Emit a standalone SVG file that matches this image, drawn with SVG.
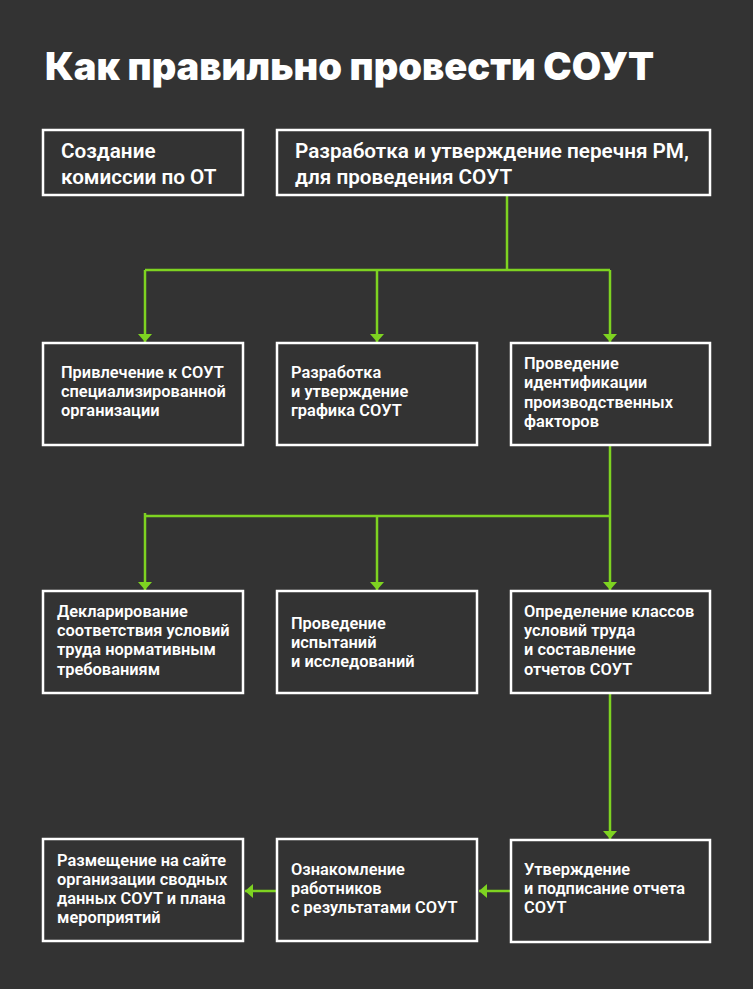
<svg xmlns="http://www.w3.org/2000/svg" width="753" height="989" viewBox="0 0 753 989">
<defs>
<style>
.box{fill:#333333;stroke:#ffffff;stroke-width:2.5}
.t{font-family:Roboto,"Liberation Sans",sans-serif;font-weight:600;fill:#ffffff}
.big{font-size:20.7px}
.sm{font-size:16.4px}
.title{font-family:Inter,"Liberation Sans",sans-serif;font-weight:900;font-size:38px;fill:#ffffff}
.ln{fill:none;stroke:#7ED321;stroke-width:2.5}
</style>
<marker id="ah" viewBox="0 0 8 14" refX="8" refY="7" markerWidth="8" markerHeight="14" markerUnits="userSpaceOnUse" orient="auto">
<path d="M0,0 L8,7 L0,14 Z" fill="#7ED321"/>
</marker>
</defs>
<rect width="753" height="989" fill="#333333"/>
<text class="title" x="45" y="80">Как правильно провести СОУТ</text>

<g id="connectors">
<path class="ln" d="M507,195 V270"/>
<path class="ln" d="M145,270 H610"/>
<path class="ln" d="M145,270 V342" marker-end="url(#ah)"/>
<path class="ln" d="M377,270 V342" marker-end="url(#ah)"/>
<path class="ln" d="M610,270 V342" marker-end="url(#ah)"/>
<path class="ln" d="M610,445 V516"/>
<path class="ln" d="M145,516 H610"/>
<path class="ln" d="M145,513 V590" marker-end="url(#ah)"/>
<path class="ln" d="M377,516 V590" marker-end="url(#ah)"/>
<path class="ln" d="M610,516 V590" marker-end="url(#ah)"/>
<path class="ln" d="M610,693 V839" marker-end="url(#ah)"/>
<path class="ln" d="M511,891 H479" marker-end="url(#ah)"/>
<path class="ln" d="M277,891 H245" marker-end="url(#ah)"/>
</g>

<g id="n1"><rect class="box" x="43" y="130" width="200" height="65"/>
<text class="t big" x="61"><tspan x="61" y="158">Создание</tspan><tspan x="61" y="184">комиссии по ОТ</tspan></text></g>
<g id="n2"><rect class="box" x="277" y="130" width="433" height="65"/>
<text class="t big"><tspan x="295" y="158">Разработка и утверждение перечня РМ,</tspan><tspan x="295" y="184">для проведения СОУТ</tspan></text></g>

<g id="n3"><rect class="box" x="43" y="343" width="200" height="102"/>
<text class="t sm"><tspan x="61" y="378">Привлечение к СОУТ</tspan><tspan x="61" y="397">специализированной</tspan><tspan x="61" y="416">организации</tspan></text></g>
<g id="n4"><rect class="box" x="277" y="343" width="200" height="102"/>
<text class="t sm"><tspan x="291" y="378">Разработка</tspan><tspan x="291" y="397">и утверждение</tspan><tspan x="291" y="416">графика СОУТ</tspan></text></g>
<g id="n5"><rect class="box" x="511" y="343" width="199" height="102"/>
<text class="t sm"><tspan x="524" y="369">Проведение</tspan><tspan x="524" y="388">идентификации</tspan><tspan x="524" y="408">производственных</tspan><tspan x="524" y="427">факторов</tspan></text></g>

<g id="n6"><rect class="box" x="43" y="591" width="200" height="102"/>
<text class="t sm"><tspan x="57" y="617">Декларирование</tspan><tspan x="57" y="636">соответствия условий</tspan><tspan x="57" y="655">труда нормативным</tspan><tspan x="57" y="675">требованиям</tspan></text></g>
<g id="n7"><rect class="box" x="277" y="591" width="200" height="102"/>
<text class="t sm"><tspan x="291" y="629">Проведение</tspan><tspan x="291" y="648">испытаний</tspan><tspan x="291" y="667">и исследований</tspan></text></g>
<g id="n8"><rect class="box" x="511" y="591" width="199" height="102"/>
<text class="t sm"><tspan x="524" y="617">Определение классов</tspan><tspan x="524" y="636">условий труда</tspan><tspan x="524" y="655">и составление</tspan><tspan x="524" y="675">отчетов СОУТ</tspan></text></g>

<g id="n9"><rect class="box" x="43" y="839" width="200" height="102"/>
<text class="t sm"><tspan x="57" y="866">Размещение на сайте</tspan><tspan x="57" y="885">организации сводных</tspan><tspan x="57" y="904">данных СОУТ и плана</tspan><tspan x="57" y="923">мероприятий</tspan></text></g>
<g id="n10"><rect class="box" x="277" y="839" width="200" height="102"/>
<text class="t sm"><tspan x="291" y="875">Ознакомление</tspan><tspan x="291" y="894">работников</tspan><tspan x="291" y="913">с результатами СОУТ</tspan></text></g>
<g id="n11"><rect class="box" x="511" y="840" width="199" height="102"/>
<text class="t sm"><tspan x="524" y="875">Утверждение</tspan><tspan x="524" y="894">и подписание отчета</tspan><tspan x="524" y="913">СОУТ</tspan></text></g>
</svg>
